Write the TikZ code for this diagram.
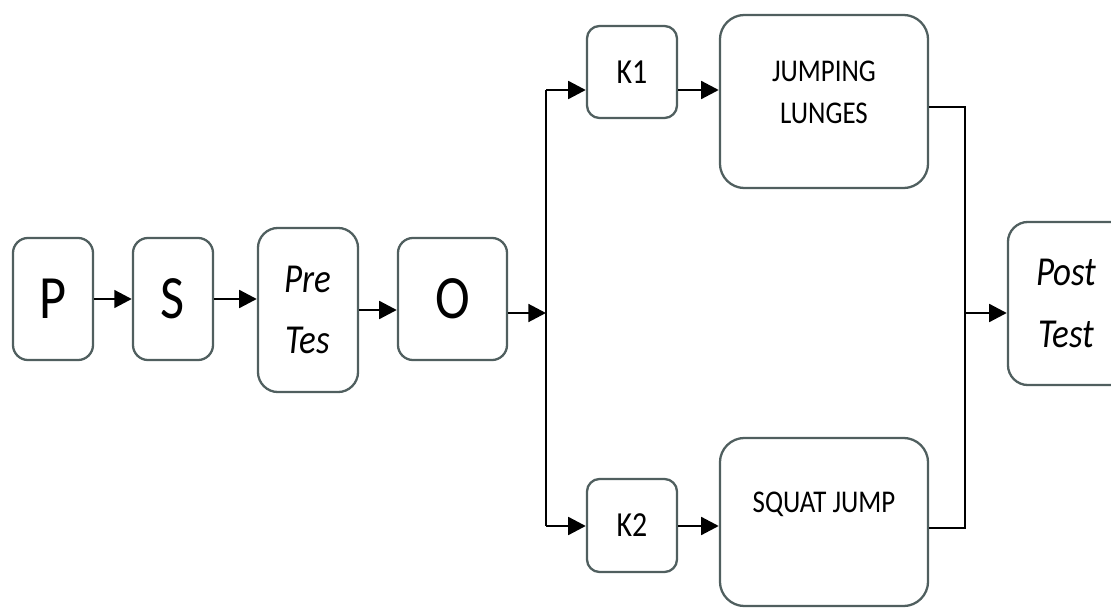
\documentclass[tikz,border=0pt]{standalone}
\usepackage{fontspec}
\setmainfont{Carlito}[FakeStretch=0.85]
\usetikzlibrary{arrows.meta}
\definecolor{boxline}{RGB}{80,95,95}

\begin{document}
\begin{tikzpicture}[
    x=0.01cm, y=-0.01cm,
    box/.style={draw=boxline, line width=0.65pt, inner sep=0pt, align=center},
    letterbox/.style={box, rounded corners=4.3pt, minimum width=0.8cm, minimum height=1.22cm,
        font=\fontsize{17.5}{21}\selectfont},
    testbox/.style={box, rounded corners=5.7pt, font=\itshape\fontsize{11.7}{17.5}\selectfont},
    kbox/.style={box, rounded corners=3.6pt, minimum width=0.9cm, minimum height=0.92cm,
        font=\fontsize{10}{12}\selectfont},
    bigbox/.style={box, rounded corners=7pt, minimum width=2.08cm},
    bigtext/.style={inner sep=0pt, align=center, anchor=north, font=\fontsize{9}{12}\selectfont},
    line/.style={line width=0.85pt},
    >={Triangle[length=5pt, width=5pt]}
]
    \useasboundingbox (0,0) rectangle (1111,609);
    \clip (0,0) rectangle (1111,609);

    % boxes in the left row
    \node[letterbox] (P) at (53, 299) {P};
    \node[letterbox] (S) at (173, 299) {S};
    \node[testbox, minimum width=1.0cm, minimum height=1.64cm] (Pre) at (308, 310) {Pre\\Tes};
    \node[letterbox, minimum width=1.09cm] (O) at (452.5, 299) {O};

    % the two groups
    \node[kbox] (K1) at (632, 72) {K1};
    \node[kbox, minimum height=0.93cm] (K2) at (632, 525.5) {K2};
    \node[bigbox, minimum height=1.73cm] (JL) at (824, 101.5) {};
    \node[bigtext] (JLtext) at (824, 60) {JUMPING\\LUNGES};
    \node[bigbox, minimum height=1.68cm] (SJ) at (824, 522) {};
    \node[bigtext] (SJtext) at (824, 491) {SQUAT JUMP};

    % post test, cut at the right edge
    \node[box, rounded corners=5.7pt, minimum width=1.4cm, minimum height=1.63cm] (Post) at (1078, 303.5) {};
    \node[testbox, draw=none] (PostText) at (1066.5, 303.5) {Post\\Test};

    % split and merge points
    \coordinate (split) at (546, 313);
    \coordinate (splitT) at (546, 90);
    \coordinate (splitB) at (546, 526);
    \coordinate (mergeT) at (965, 107);
    \coordinate (merge) at (965, 313);
    \coordinate (mergeB) at (965, 528);

    % 1. left row arrows
    \draw[line, ->] (P) -- (S);
    \draw[line, ->] (S.east) -- (S.east -| Pre.west);
    \draw[line, ->] (Pre.east) -- (Pre.east -| O.west);
    \draw[line, ->] (O.east |- split) -- (split);

    % 2. split into K1 and K2
    \draw[line] (splitT) -- (splitB);
    \draw[line, ->] (splitT) -- (K1.west |- splitT);
    \draw[line, ->] (splitB) -- (K2.west |- splitB);
    \draw[line, ->] (K1.east |- splitT) -- (JL.west |- splitT);
    \draw[line, ->] (K2.east |- splitB) -- (SJ.west |- splitB);

    % 3. merge into post test
    \draw[line] (JL.east |- mergeT) -- (mergeT) -- (mergeB) -- (SJ.east |- mergeB);
    \draw[line, ->] (merge) -- (Post.west |- merge);

\end{tikzpicture}
\end{document}
